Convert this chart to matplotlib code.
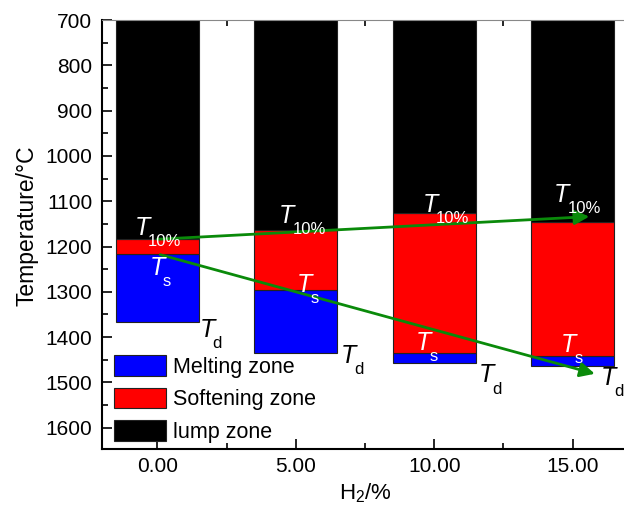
import matplotlib

matplotlib.use("Agg")
import matplotlib.pyplot as plt
from matplotlib.ticker import MultipleLocator

plt.rcParams["font.family"] = ["Liberation Sans", "DejaVu Sans"]
plt.rcParams["mathtext.fontset"] = "custom"
plt.rcParams["mathtext.rm"] = "Liberation Sans"
plt.rcParams["mathtext.it"] = "Liberation Sans:italic"

# data
h2_pct = [0.0, 5.0, 10.0, 15.0]
x_labels = ["0.00", "5.00", "10.00", "15.00"]
top_temp = 700
t10 = [1184, 1163, 1125, 1145]
ts = [1217, 1295, 1436, 1442]
td = [1366, 1434, 1458, 1464]
# trend arrows (start -> end)
t10_trend = [(0.0, 1184), (15.6, 1134)]
ts_trend = [(0.1, 1218), (15.8, 1481)]

# label anchors (left edge of T, baseline of T)
t10_pos = [(-0.83, 1175), (4.40, 1148), (9.57, 1124), (14.33, 1102)]
ts_pos = [(-0.29, 1263), (5.05, 1301), (9.35, 1429), (14.58, 1433)]
td_pos = [(1.52, 1400), (6.64, 1458), (11.62, 1500), (16.03, 1506)]

fig = plt.figure(figsize=(6.24, 5.14), dpi=100)
ax = fig.add_axes([102 / 624, 65 / 514, 526 / 624, 429 / 514])

w = 3.0
edge = "#222222"
lump = [a - top_temp for a in t10]
soft = [b - a for a, b in zip(t10, ts)]
melt = [c - b for b, c in zip(ts, td)]
ax.bar(h2_pct, melt, w, bottom=ts, color="#0000ff", edgecolor=edge, lw=0.8,
       label="Melting zone")
ax.bar(h2_pct, soft, w, bottom=t10, color="#ff0000", edgecolor=edge, lw=0.8,
       label="Softening zone")
ax.bar(h2_pct, lump, w, bottom=top_temp, color="black", edgecolor=edge, lw=0.8,
       label="lump zone")

for trend in (t10_trend, ts_trend):
    ax.annotate("", xy=trend[1], xytext=trend[0],
                arrowprops=dict(arrowstyle="-|>", color="#0a8a0a", lw=2,
                                mutation_scale=22, shrinkA=0, shrinkB=0))


def t_label(pos, sub, color):
    for (x, y) in pos:
        ax.text(x, y, "T", style="italic", color=color, fontsize=18,
                va="baseline", ha="left", clip_on=False)
        ax.annotate(sub, xy=(x, y), xytext=(9.5, -8), textcoords="offset points",
                    color=color, fontsize=12, va="baseline", ha="left",
                    annotation_clip=False)


t_label(t10_pos, "10%", "white")
t_label(ts_pos, "s", "white")
t_label(td_pos, "d", "black")

ax.set_xlim(-2, 17)
ax.set_ylim(1647, 700)
ax.set_xticks(h2_pct)
ax.set_xticklabels(x_labels)
ax.xaxis.set_minor_locator(MultipleLocator(2.5))
ax.set_yticks(range(700, 1700, 100))
ax.yaxis.set_minor_locator(MultipleLocator(50))
ax.tick_params(which="both", direction="in", labelsize=15, width=1.2,
               top=True, right=False)
ax.tick_params(which="major", length=7)
ax.tick_params(which="minor", length=4)
ax.tick_params(axis="y", which="major", pad=7)
ax.tick_params(axis="x", which="major", pad=6)
for side in ("left", "bottom"):
    ax.spines[side].set_linewidth(1.5)
ax.spines["top"].set_color("#888888")
ax.spines["right"].set_visible(False)

ax.set_ylabel("Temperature/\u00b0C", fontsize=16.5)
ax.yaxis.set_label_coords(-0.121, 0.52)
ax.set_xlabel(r"H$_2$/%", fontsize=16, labelpad=4)

h, l = ax.get_legend_handles_labels()
ax.legend(h, l, loc="lower left", bbox_to_anchor=(0.01, 0.0), frameon=False,
          fontsize=15.5, handlelength=2.45, handleheight=1.1, handletextpad=0.3,
          labelspacing=0.45, borderpad=0.1, borderaxespad=0.2)

fig.savefig("out.png", dpi=100)
